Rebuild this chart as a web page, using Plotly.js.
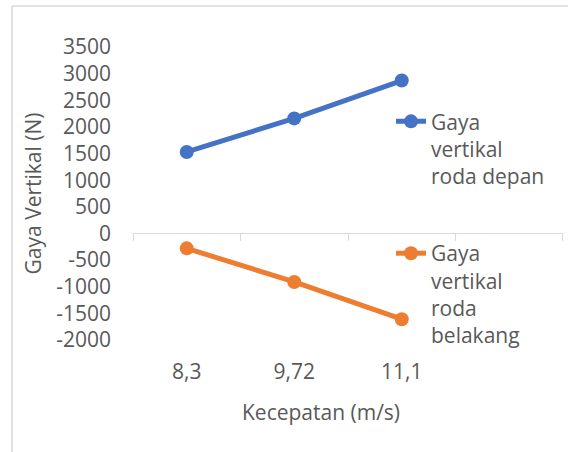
<!DOCTYPE html>
<html>
<head>
<meta charset="utf-8">
<script src="https://cdn.plot.ly/plotly-3.0.1.min.js"></script>
<style>
html, body { margin: 0; padding: 0; background: #fff; }
#chart { width: 568px; height: 452px; }
</style>
</head>
<body>
<div id="chart"></div>
<script>
// ---- data ----
const categories = ['8,3', '9,72', '11,1'];
const depan = [1530, 2160, 2870];
const belakang = [-280, -910, -1610];
const seriesNames = ['Gaya<br>vertikal<br>roda depan', 'Gaya<br>vertikal<br>roda<br>belakang'];
const yTickVals = [-2000, -1500, -1000, -500, 0, 500, 1000, 1500, 2000, 2500, 3000, 3500];
const yTickText = ['-2000', '-1500', '-1000', '-500', '0', '500', '1000', '1500', '2000', '2500', '3000', '3500'];
const xTitle = 'Kecepatan (m/s)';
const yTitle = 'Gaya Vertikal (N)';

// ---- styling ----
const BLUE = '#4472C4', ORANGE = '#ED7D31', GRID = '#D9D9D9', TXT = '#595959';
const FONT = 'Open Sans, DejaVu Sans, sans-serif';
const FS = 21;
const yMin = -2000, yMax = 3500;
const zeroPos = (0 - yMin) / (yMax - yMin);

const traces = [
  {
    x: categories, y: depan, name: seriesNames[0], type: 'scatter', mode: 'lines+markers',
    line: {color: BLUE, width: 5}, marker: {color: BLUE, size: 14}, legend: 'legend'
  },
  {
    x: categories, y: belakang, name: seriesNames[1], type: 'scatter', mode: 'lines+markers',
    line: {color: ORANGE, width: 5}, marker: {color: ORANGE, size: 14}, legend: 'legend2'
  },
  {
    x: [null], y: [null], xaxis: 'x2', type: 'scatter', mode: 'markers',
    showlegend: false, hoverinfo: 'skip'
  }
];

const layout = {
  width: 568, height: 452,
  margin: {l: 133, r: 5, t: 47, b: 112},
  paper_bgcolor: '#fff', plot_bgcolor: '#fff',
  font: {family: FONT, color: TXT, size: FS},
  showlegend: true,
  xaxis: {
    type: 'category', categoryorder: 'array', categoryarray: categories,
    range: [-0.5, 3.5], showline: false, showgrid: false, zeroline: false,
    ticks: '', ticklabelstandoff: 17,
    tickfont: {family: FONT, size: FS, color: TXT},
    fixedrange: true
  },
  xaxis2: {
    overlaying: 'x', anchor: 'free', position: zeroPos, type: 'linear',
    range: [-0.5001, 3.5001], tick0: 0.5, dtick: 1,
    ticks: 'outside', ticklen: 7, tickcolor: GRID, tickwidth: 1,
    showline: true, linecolor: GRID, linewidth: 1,
    showticklabels: false, showgrid: false, zeroline: false
  },
  yaxis: {
    range: [yMin, yMax], tickmode: 'array', tickvals: yTickVals, ticktext: yTickText,
    showline: false, showgrid: false, zeroline: false, ticks: '',
    ticklabelstandoff: 21,
    tickfont: {family: FONT, size: FS, color: TXT},
    title: {text: yTitle, font: {family: FONT, size: FS, color: TXT}, standoff: 8}
  },
  legend: {
    x: 0.6, y: 0.815, xanchor: 'left', yanchor: 'top', valign: 'top',
    bgcolor: 'rgba(0,0,0,0)', font: {family: FONT, size: FS, color: TXT}
  },
  legend2: {
    x: 0.6, y: 0.365, xanchor: 'left', yanchor: 'top', valign: 'top',
    bgcolor: 'rgba(0,0,0,0)', font: {family: FONT, size: FS, color: TXT}
  },
  annotations: [{
    text: xTitle, xref: 'paper', yref: 'paper', x: 0.437, y: -0.19,
    xanchor: 'center', yanchor: 'top', showarrow: false,
    font: {family: FONT, size: FS, color: TXT}
  }],
  shapes: [
    {type: 'line', xref: 'paper', yref: 'paper', x0: -0.2814, x1: -0.2814, y0: -0.4, y1: 1.14,
     line: {color: GRID, width: 1.5}},
    {type: 'line', xref: 'paper', yref: 'paper', x0: -0.2814, x1: 1.02, y0: 1.14, y1: 1.14,
     line: {color: GRID, width: 1.5}}
  ]
};

Plotly.newPlot('chart', traces, layout, {displayModeBar: false, staticPlot: true});
</script>
</body>
</html>
